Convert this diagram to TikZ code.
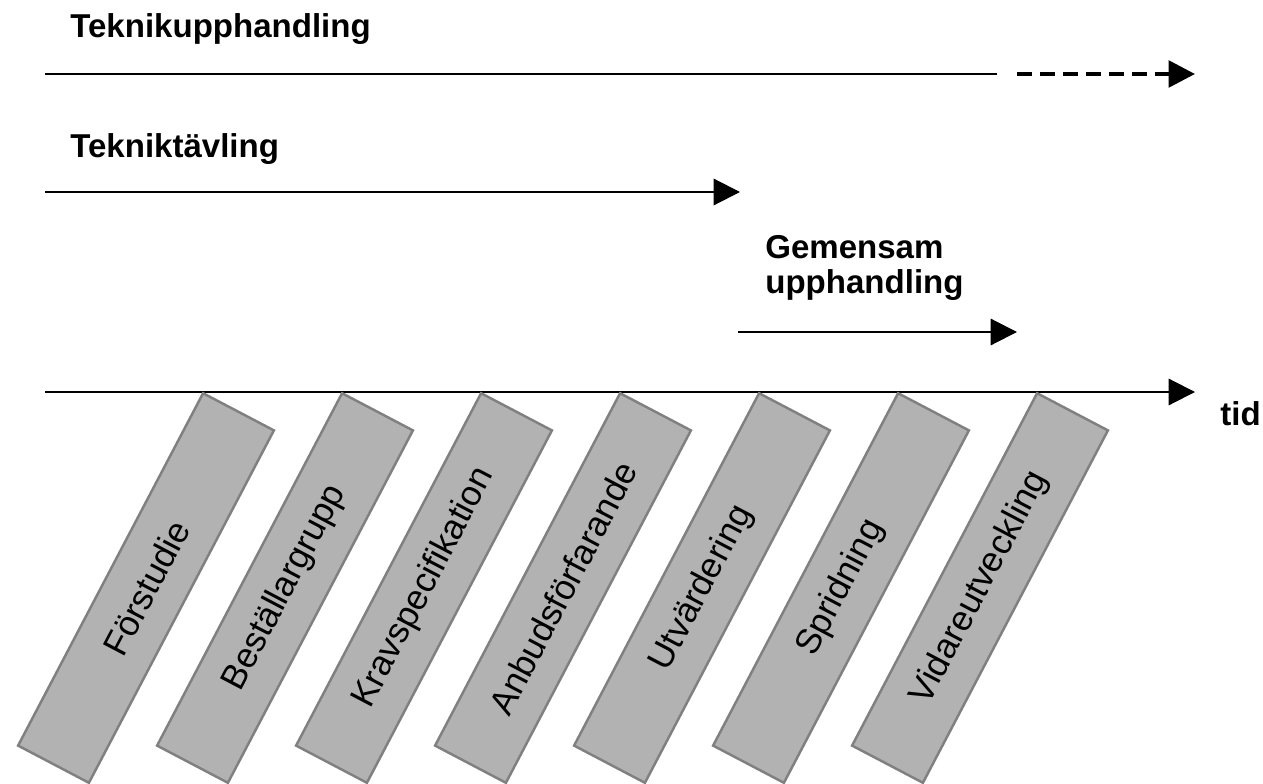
\documentclass[tikz,border=0pt]{standalone}
\usepackage{fontspec}
\setmainfont{Liberation Sans}
\usetikzlibrary{arrows.meta}
\begin{document}
\begin{tikzpicture}[
		pil/.style={line width=1.2pt, -{Triangle[length=15pt,width=15pt]}},
		rubrik/.style={font=\bfseries\fontsize{18.8}{20}\selectfont, inner sep=0pt},
		fas/.style={draw=black!50, fill=black!30, line width=1.4pt, rotate=62.3, minimum width=7.96cm, minimum height=1.6cm, inner sep=0pt, font=\fontsize{20}{24}\selectfont}
	]
			\useasboundingbox (0,0) rectangle (25.26,15.66);
			% Teknikupphandling
			\node[rubrik, anchor=base west] (tu) at (1.4,14.9) {Teknikupphandling};
			\coordinate (tu0) at (0.9,14.18);
			\coordinate (tu1) at (19.94,14.18);
			\coordinate (tu2) at (20.34,14.18);
			\coordinate (tu3) at (23.9,14.18);
			\draw[line width=1.2pt] (tu0) -- (tu1);
			\draw[pil, line width=2.5pt, dash pattern=on 0.3cm off 0.16cm] (tu2) -- (tu3);
			% Tekniktävling
			\node[rubrik, anchor=base west] (tt) at (1.4,12.52) {Tekniktävling};
			\coordinate (tt0) at (0.9,11.82);
			\coordinate (tt1) at (14.8,11.82);
			\draw[pil] (tt0) -- (tt1);
			% Gemensam upphandling
			\node[rubrik, anchor=north west, align=left] (gu) at (15.3,10.96) {Gemensam\\upphandling};
			\coordinate (gu0) at (14.76,9.02);
			\coordinate (gu1) at (20.34,9.02);
			\draw[pil] (gu0) -- (gu1);
			% tid
			\coordinate (t0) at (0.9,7.82);
			\coordinate (t1) at (23.9,7.82);
			\draw[pil] (t0) -- (t1);
			\node[rubrik, anchor=base west] (tid) at (24.4,7.16) {tid};
			% faser
			\foreach \namn [count=\i from 0] in {Förstudie, Beställargrupp, Kravspecifikation, Anbudsförfarande, Utvärdering, Spridning, Vidareutveckling}
				\node[fas] (fas\i) at ({2.92+2.78*\i},3.9) {\namn};
		\end{tikzpicture}
\end{document}
